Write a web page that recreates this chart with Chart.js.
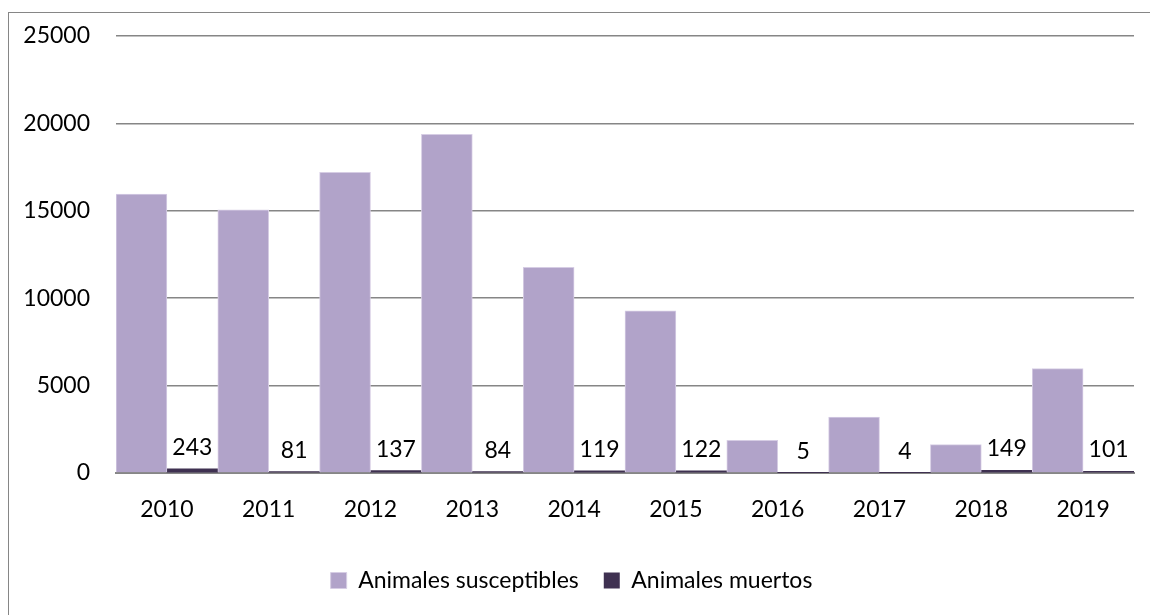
<!DOCTYPE html>
<html>
<head>
<meta charset="utf-8">
<script src="https://cdn.jsdelivr.net/npm/chart.js@4"></script>
<style>
    html, body { margin: 0; padding: 0; background: #fff; overflow: hidden; }
    #frame { position: absolute; left: 8px; top: 12px; width: 1200px; height: 700px; border: 1px solid #868686; }
    #wrap { position: absolute; left: 9px; top: 13px; width: 1141px; height: 602px; }
</style>
</head>
<body>
<div id="frame"></div>
<div id="wrap"><canvas id="chart"></canvas></div>
<script>
const years = ['2010', '2011', '2012', '2013', '2014', '2015', '2016', '2017', '2018', '2019'];
const susceptibles = [15960, 15050, 17200, 19370, 11770, 9280, 1870, 3200, 1620, 5970];
const muertos = [243, 81, 137, 84, 119, 122, 5, 4, 149, 101];
const yTicks = [0, 5000, 10000, 15000, 20000, 25000];

const font = 'Lato';

// labels above the dark bars
const valueLabels = {
    id: 'valueLabels',
    afterDatasetsDraw(chart) {
        const ctx = chart.ctx;
        const meta = chart.getDatasetMeta(1);
        ctx.save();
        ctx.font = '23px ' + font;
        ctx.fillStyle = '#000';
        ctx.textAlign = 'center';
        ctx.textBaseline = 'alphabetic';
        meta.data.forEach((bar, i) => {
            ctx.fillText(String(muertos[i]), bar.x, bar.y - 14);
        });
        ctx.restore();
    }
};

const ctx = document.getElementById('chart').getContext('2d');
const chart = new Chart(ctx, {
    type: 'bar',
    data: {
        labels: years,
        datasets: [
            { label: 'Animales susceptibles', data: susceptibles, backgroundColor: '#b1a3c9', borderColor: '#d6cde4', borderWidth: 1 },
            { label: 'Animales muertos', data: muertos, backgroundColor: '#3f3151', borderWidth: 0 }
        ]
    },
    options: {
        responsive: true,
        maintainAspectRatio: false,
        animation: false,
        layout: { padding: { top: 23, right: 16, left: 0, bottom: 13 } },
        datasets: { bar: { categoryPercentage: 1, barPercentage: 1 } },
        plugins: {
            tooltip: { enabled: false },
            legend: {
                position: 'bottom',
                labels: {
                    font: { family: font, size: 23 },
                    color: '#000',
                    boxWidth: 16,
                    boxHeight: 16,
                    padding: 25
                }
            }
        },
        scales: {
            x: {
                grid: { display: false, drawTicks: false },
                border: { color: '#868686', width: 2 },
                ticks: { font: { family: font, size: 23 }, color: '#000', padding: 23, maxRotation: 0 },
                afterFit(scale) { scale.height = 71; }
            },
            y: {
                min: 0,
                max: 25000,
                afterBuildTicks(scale) { scale.ticks = yTicks.map(v => ({ value: v })); },
                // invisible tick marks give the gap between labels and plot
                grid: { color: '#868686', lineWidth: 1.5, drawTicks: true, tickLength: 26, tickColor: 'rgba(0,0,0,0)' },
                border: { display: false },
                ticks: { font: { family: font, size: 23 }, color: '#000', padding: 0, callback: v => String(v) },
                afterFit(scale) { scale.width = 107; }
            }
        }
    },
    plugins: [valueLabels]
});
</script>
</body>
</html>
